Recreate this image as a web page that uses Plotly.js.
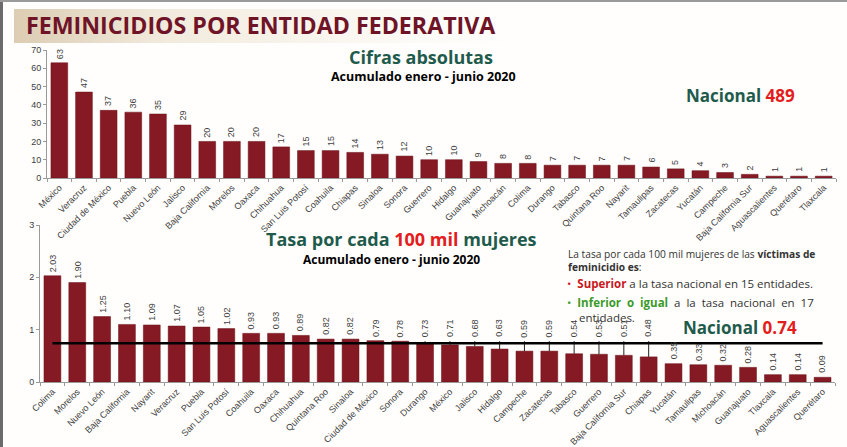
<!DOCTYPE html>
<html>
<head>
<meta charset="utf-8">
<script src="https://cdn.plot.ly/plotly-3.0.1.min.js"></script>
<style>
  html, body { margin: 0; padding: 0; background: #ffffff; }
  #wrap { position: relative; width: 847px; height: 447px; overflow: hidden; background: #fffefc; }
  #band { position: absolute; left: 14px; top: 9px; width: 500px; height: 34px;
          background: linear-gradient(90deg, rgba(214,196,166,0.85) 0%, rgba(236,226,208,0.7) 30%, rgba(250,246,240,0.4) 80%, rgba(255,255,255,0) 100%); }
  #edge { position: absolute; left: 0; top: 0; width: 3px; height: 447px; background: #6b6b6b; }
  #topedge { position: absolute; left: 0; top: 0; width: 847px; height: 2px; background: #9a9a9a; }
  #chart { position: absolute; left: 0; top: 0; width: 847px; height: 447px; }
</style>
</head>
<body>
<div id="wrap">
  <div id="band"></div>
  <div id="edge"></div>
  <div id="topedge"></div>
  <div id="chart"></div>
</div>
<script>
// ---- Data ----
const catsTotal = ["México","Veracruz","Ciudad de México","Puebla","Nuevo León","Jalisco","Baja California","Morelos","Oaxaca","Chihuahua","San Luis Potosí","Coahuila","Chiapas","Sinaloa","Sonora","Guerrero","Hidalgo","Guanajuato","Michoacán","Colima","Durango","Tabasco","Quintana Roo","Nayarit","Tamaulipas","Zacatecas","Yucatán","Campeche","Baja California Sur","Aguascalientes","Querétaro","Tlaxcala"];
const valsTotal = [63,47,37,36,35,29,20,20,20,17,15,15,14,13,12,10,10,9,8,8,7,7,7,7,6,5,4,3,2,1,1,1];

const catsRate = ["Colima","Morelos","Nuevo León","Baja California","Nayarit","Veracruz","Puebla","San Luis Potosí","Coahuila","Oaxaca","Chihuahua","Quintana Roo","Sinaloa","Ciudad de México","Sonora","Durango","México","Jalisco","Hidalgo","Campeche","Zacatecas","Tabasco","Guerrero","Baja California Sur","Chiapas","Yucatán","Tamaulipas","Michoacán","Guanajuato","Tlaxcala","Aguascalientes","Querétaro"];
const valsRate = [2.03,1.90,1.25,1.10,1.09,1.07,1.05,1.02,0.93,0.93,0.89,0.82,0.82,0.79,0.78,0.73,0.71,0.68,0.63,0.59,0.59,0.54,0.53,0.51,0.48,0.35,0.33,0.32,0.28,0.14,0.14,0.09];

const nacionalTotal = 489;
const nacionalRate = 0.74;
const totalTicks = [0,10,20,30,40,50,60,70];
const rateTicks = [0,1,2,3];

// ---- Helpers ----
const W = 847, H = 447;
const px = x => x / W;
const py = y => 1 - y / H;

const barColor = "#861a24";
const textGray = "#404040";
const teal = "#1f5b4c";
const red = "#e31c1c";
const baseFont = "Liberation Sans, Arial, sans-serif";
const headFont = "Open Sans, sans-serif";

const traces = [
  { type: "bar", x: catsTotal, y: valsTotal, xaxis: "x", yaxis: "y",
    marker: { color: barColor, line: { color: "#6a1019", width: 0.5 } }, hoverinfo: "x+y" },
  { type: "bar", x: catsRate, y: valsRate, xaxis: "x2", yaxis: "y2",
    marker: { color: barColor, line: { color: "#6a1019", width: 0.5 } }, hoverinfo: "x+y" }
];

const annotations = [];
const shapes = [];

// value labels top chart
valsTotal.forEach((v, i) => {
  annotations.push({ xref: "x", yref: "y", x: catsTotal[i], y: v, text: String(v),
    textangle: -90, showarrow: false, yanchor: "bottom", yshift: 3, borderpad: 0,
    font: { family: baseFont, size: 9, color: textGray } });
});

// value labels bottom chart (labels for bars just below the national line are lifted above it)
const liftLevel = 0.78;
valsRate.forEach((v, i) => {
  const lifted = v < nacionalRate && v >= 0.4;
  const yl = lifted ? liftLevel : v;
  annotations.push({ xref: "x2", yref: "y2", x: catsRate[i], y: yl, text: v.toFixed(2),
    textangle: -90, showarrow: false, yanchor: "bottom", yshift: 3, borderpad: 0,
    font: { family: baseFont, size: 9, color: textGray } });
  if (lifted) {
    shapes.push({ type: "line", xref: "x2", yref: "y2", x0: i, x1: i, y0: v, y1: yl,
      line: { color: "#222", width: 1 } });
  }
});

// national line
shapes.push({ type: "line", xref: "x2", yref: "y2", x0: 0, x1: catsRate.length - 1,
  y0: nacionalRate, y1: nacionalRate, line: { color: "#000", width: 2.5 }, layer: "above" });

function txt(x, y, text, size, color, anchor, weight, yanchor) {
  const f = { family: headFont, size: size, color: color };
  if (weight) f.weight = weight;
  return { xref: "paper", yref: "paper", x: px(x), y: py(y), xanchor: anchor || "left", yanchor: yanchor || "middle",
    align: "left", showarrow: false, borderpad: 0, text: text, font: f };
}

// texts
annotations.push(
  txt(25, 25, "<b>FEMINICIDIOS POR ENTIDAD FEDERATIVA</b>", 23.2, "#6f1427", "left", 800),
  txt(421, 57, "<b>Cifras absolutas</b>", 18, teal, "center"),
  txt(423, 77, "<b>Acumulado enero - junio 2020</b>", 12.5, "#000", "center"),
  txt(740, 95, "<b>Nacional <span style='color:" + red + "'>" + nacionalTotal + "</span></b>", 17, teal, "center"),
  txt(401, 239, "<b>Tasa por cada <span style='color:" + red + "'>100 mil</span> mujeres</b>", 18, teal, "center"),
  txt(391, 259.5, "<b>Acumulado enero - junio 2020</b>", 12, "#000", "center"),
  txt(740, 327, "<b>Nacional <span style='color:" + red + "'>" + nacionalRate.toFixed(2) + "</span></b>", 17, teal, "center"),
  txt(567, 246, "La tasa por cada 100 mil mujeres de las <b>víctimas de</b><br><b>feminicidio es</b>:", 10.2, "#333", "left", null, "top"),
  txt(566, 283, "<span style='color:#d0202a'>•</span>  <b><span style='color:#c8171f'>Superior</span></b> a la tasa nacional en 15 entidades.", 11.5, "#333"),
  txt(566, 293.5, "<span style='color:#3a9a2a'>•</span>  <b><span style='color:#3a9a2a'>Inferior  o  igual</span></b>  a  la  tasa  nacional  en  17<br>&nbsp;&nbsp;&nbsp;&nbsp;entidades.", 11.5, "#333", "left", null, "top")
);

const axisCommon = {
  showgrid: false, zeroline: false, showline: true, linecolor: "#9a9a9a", linewidth: 1,
  ticks: "outside", ticklen: 3, tickcolor: "#9a9a9a",
  tickfont: { family: baseFont, size: 9, color: textGray }
};

const layout = {
  width: W, height: H,
  margin: { l: 0, r: 0, t: 0, b: 0 },
  paper_bgcolor: "rgba(0,0,0,0)", plot_bgcolor: "rgba(0,0,0,0)",
  showlegend: false, bargap: 0.32,
  xaxis: Object.assign({}, axisCommon, { domain: [px(47), px(836)], anchor: "y", type: "category",
    tickangle: -45, tickson: "boundaries" }),
  yaxis: Object.assign({}, axisCommon, { domain: [py(178), py(50)], anchor: "x", range: [0, 70],
    tickvals: totalTicks, ticktext: totalTicks.map(String) }),
  xaxis2: Object.assign({}, axisCommon, { domain: [px(40), px(835)], anchor: "y2", type: "category",
    tickangle: -45, tickson: "boundaries" }),
  yaxis2: Object.assign({}, axisCommon, { domain: [py(382), py(225)], anchor: "x2", range: [0, 3],
    tickvals: rateTicks, ticktext: rateTicks.map(String) }),
  annotations: annotations,
  shapes: shapes
};

Plotly.newPlot("chart", traces, layout, { displayModeBar: false, staticPlot: true });
</script>
</body>
</html>
